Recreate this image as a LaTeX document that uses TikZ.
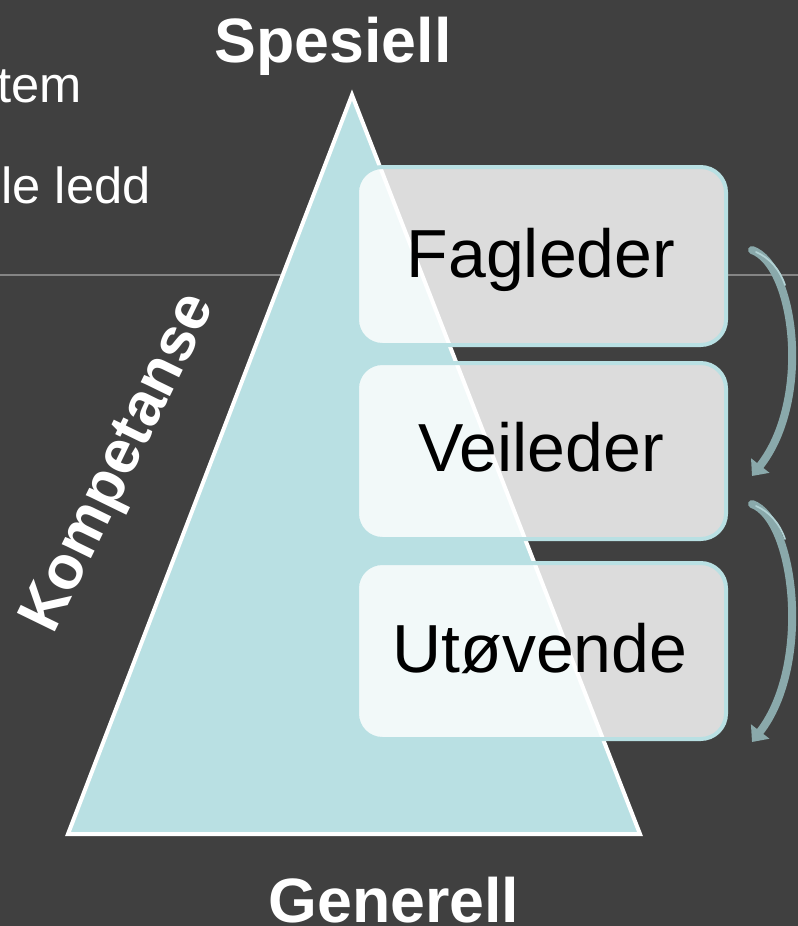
\documentclass[tikz,border=0pt]{standalone}
\usepackage{fontspec}
\setmainfont{Liberation Sans}
\usetikzlibrary{arrows.meta}
\definecolor{bg}{HTML}{404040}
\definecolor{tri}{HTML}{B9E0E3}
\definecolor{arrowc}{HTML}{8AA9AB}
\definecolor{arrowhl}{HTML}{B3D3D5}
\definecolor{rule}{HTML}{858585}
\tikzset{
  levelbox/.style={draw=tri, line width=3pt, fill=white, fill opacity=0.82, rounded corners=19pt},
  leveltext/.style={text=black, font=\fontsize{51}{60}\selectfont, anchor=base, inner sep=0pt},
  headtext/.style={text=white, font=\bfseries\fontsize{47}{56}\selectfont, anchor=base, inner sep=0pt},
  bodytext/.style={text=white, font=\fontsize{38}{46}\selectfont, anchor=base east, inner sep=0pt},
  bendarrow/.style={draw=arrowc, line width=6pt, line cap=round, -{Triangle[width=17pt,length=10pt]}},
  bendhl/.style={draw=arrowhl, line width=1.3pt, line cap=round},
}
\begin{document}
\begin{tikzpicture}[x=0.75pt,y=0.75pt]
\useasboundingbox (0,0) rectangle (798,-926);
\fill[bg] (0,0) rectangle (798,-926);
% rule
\draw[rule, line width=0.9pt] (0,-275) -- (300,-275);
\draw[rule, line width=0.9pt] (728,-275) -- (798,-275);
% left text
\node[bodytext] (t1) at (82,-102) {tem};
\node[bodytext] (t2) at (151,-203) {le ledd};
% triangle
\coordinate (apex) at (352,-95);
\coordinate (bl) at (68,-834);
\coordinate (br) at (640,-834);
\filldraw[fill=tri, draw=white, line width=3pt, line join=miter] (apex) -- (br) -- (bl) -- cycle;
% boxes
\path[levelbox] (357,-167) rectangle (726,-345);
\path[levelbox] (357,-363) rectangle (726,-539);
\path[levelbox] (357,-563) rectangle (726,-739);
\node[leveltext] (fag) at (541,-277) {Fagleder};
\node[leveltext] (vei) at (541,-471) {Veileder};
\node[leveltext] (utv) at (540,-672) {Utøvende};
% arrows
\coordinate (a1s) at (752,-250);
\coordinate (a1e) at (752,-476);
\coordinate (a2s) at (752,-504);
\coordinate (a2e) at (752,-742);
\draw[bendarrow] (a1s) .. controls (795,-265) and (812,-400) .. (a1e);
\draw[bendhl] (756,-252) .. controls (770,-258) and (780,-270) .. (785,-285);
\draw[bendarrow] (a2s) .. controls (795,-519) and (812,-665) .. (a2e);
\draw[bendhl] (756,-506) .. controls (770,-512) and (780,-524) .. (785,-539);
% headings
\node[headtext] (spes) at (333,-62) {Spesiell};
\node[headtext] (gen) at (394,-922) {Generell};
\node[text=white, font=\bfseries\fontsize{46}{55}\selectfont, rotate=64, inner sep=0pt] (komp) at (121,-464) {Kompetanse};
\end{tikzpicture}
\end{document}
